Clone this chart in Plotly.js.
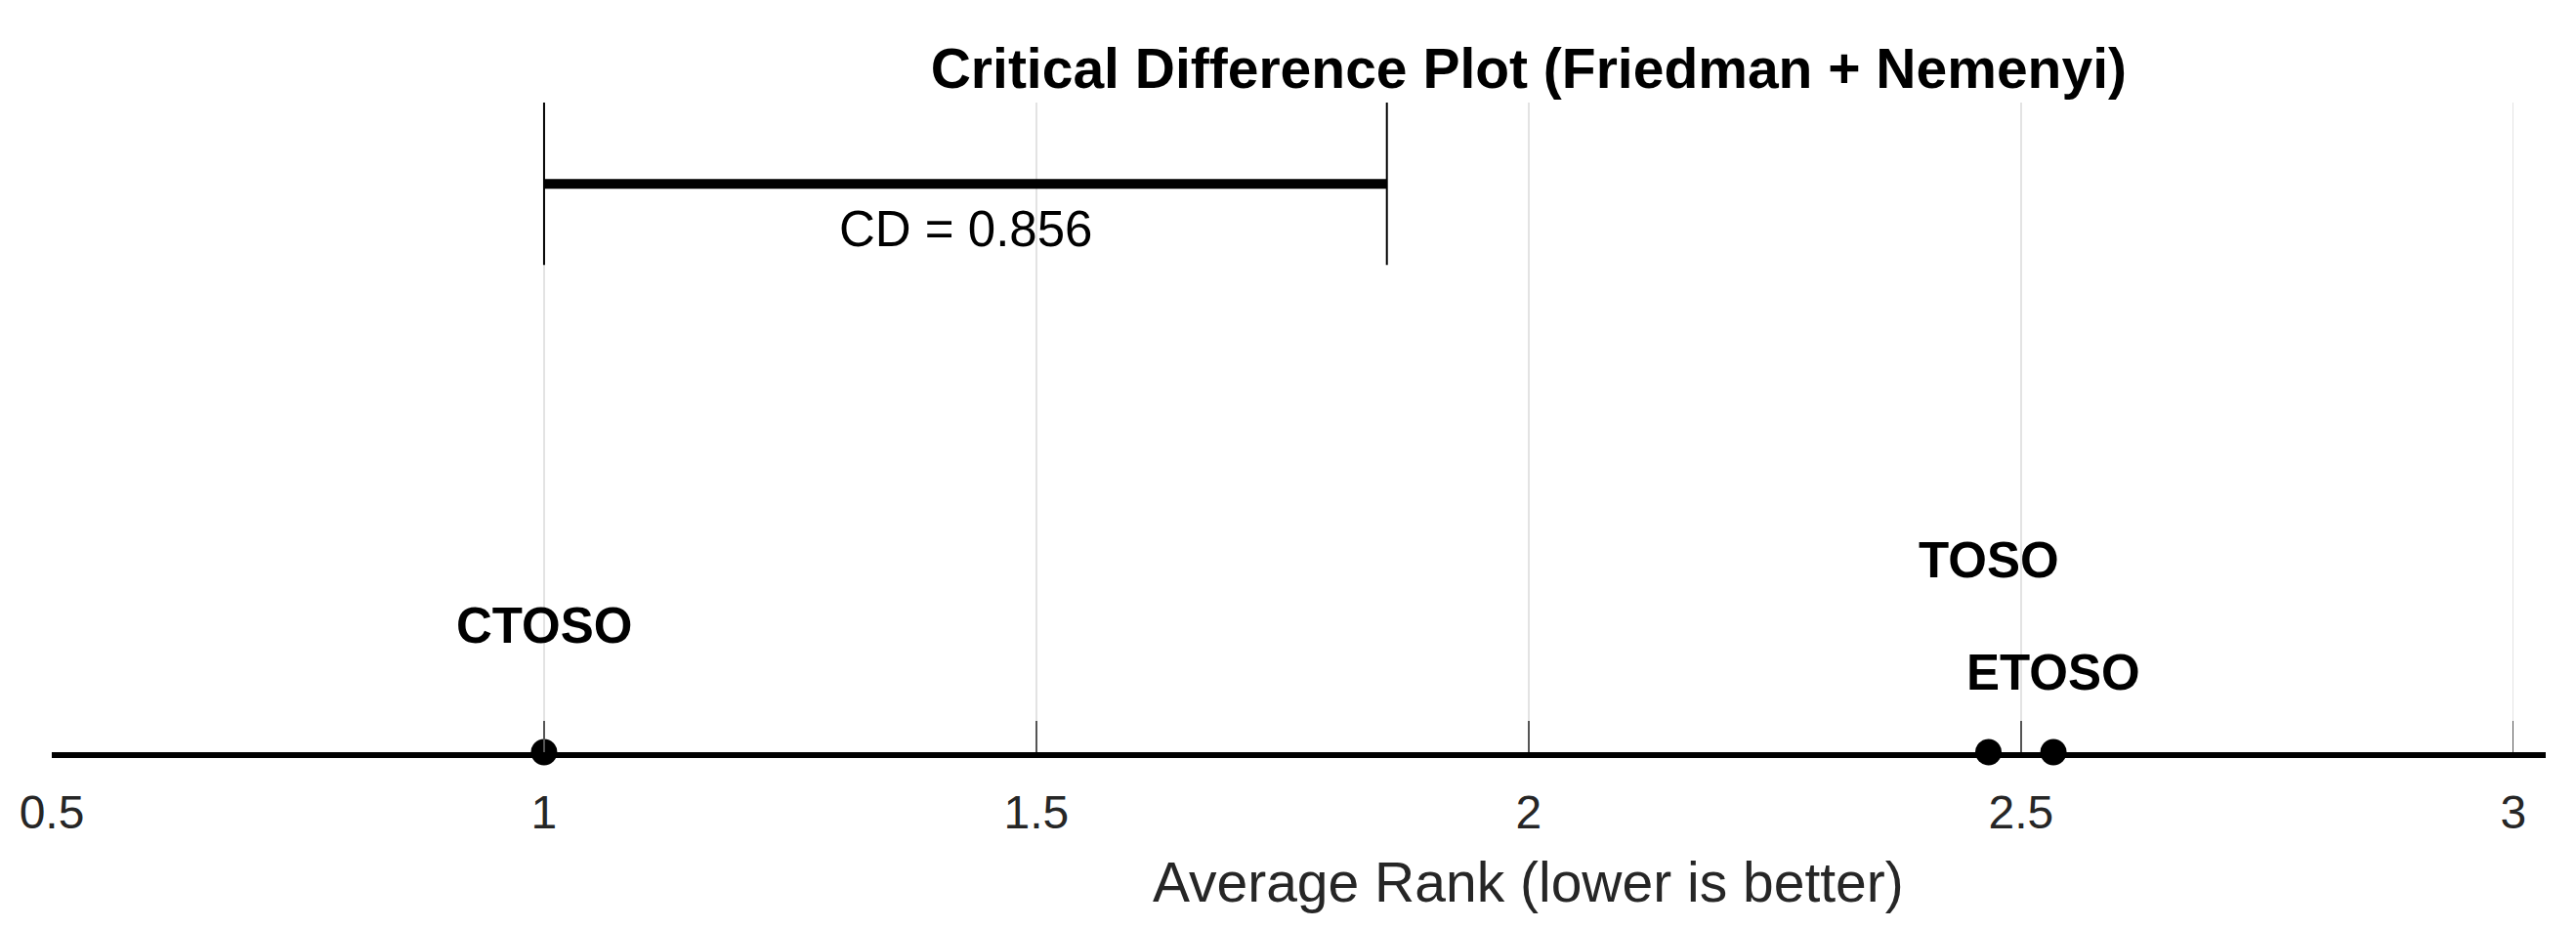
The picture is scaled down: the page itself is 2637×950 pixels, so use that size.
<!DOCTYPE html>
<html>
<head>
<meta charset="utf-8">
<script src="https://cdn.plot.ly/plotly-3.0.1.min.js"></script>
<style>
  html, body { margin: 0; padding: 0; background: #ffffff; overflow: hidden; }
  #chart { width: 2637px; height: 950px; }
</style>
</head>
<body>
<div id="chart"></div>
<script>
// ---- data ----
const methods = ['CTOSO', 'TOSO', 'ETOSO'];
const avgRanks = [1.0, 2.467, 2.533];
const cdValue = 0.856;
const tickValues = [0.5, 1, 1.5, 2, 2.5, 3];
const tickLabels = ['0.5', '1', '1.5', '2', '2.5', '3'];
const chartTitle = 'Critical Difference Plot (Friedman + Nemenyi)';
const xAxisTitle = 'Average Rank (lower is better)';

// ---- layout helpers (style / position, not data) ----
const labelLevels = [0.195, 0.296, 0.123];   // vertical placement of method labels (y axis is 0..1)
const FONT = 'Liberation Sans, Arial, Helvetica, sans-serif';
const minR = Math.min(...avgRanks), maxR = Math.max(...avgRanks);
const xRange = [minR - 0.5, maxR + 0.5];
const cdStart = minR, cdEnd = minR + cdValue;
const tickStep = tickValues[1] - tickValues[0];
// centre of the original (wider) axes 0.5..3.5, where titles are centred
const xMid = (tickValues[0] + tickValues[tickValues.length - 1] + tickStep) / 2;

const traces = [
  // CD bar
  { x: [cdStart, cdEnd], y: [0.875, 0.875], mode: 'lines', line: { color: '#000', width: 10 },
    hoverinfo: 'skip', showlegend: false, cliponaxis: false },
  // CD end ticks
  { x: [cdStart, cdStart], y: [0.75, 1.0], mode: 'lines', line: { color: '#000', width: 2 },
    hoverinfo: 'skip', showlegend: false, cliponaxis: false },
  { x: [cdEnd, cdEnd], y: [0.75, 1.0], mode: 'lines', line: { color: '#000', width: 2 },
    hoverinfo: 'skip', showlegend: false, cliponaxis: false },
  // method points
  { x: avgRanks, y: avgRanks.map(() => 0), mode: 'markers', text: methods,
    marker: { color: '#000', size: 27 }, showlegend: false, cliponaxis: false }
];

const annotations = [
  { x: (cdStart + cdEnd) / 2, y: 0.806, xref: 'x', yref: 'y', text: 'CD = ' + cdValue.toFixed(3),
    showarrow: false, xanchor: 'center', yanchor: 'middle',
    font: { family: FONT, size: 51, color: '#000' } },
  { x: xMid, y: 0, xref: 'x', yref: 'paper', yanchor: 'middle', yshift: -133, text: xAxisTitle,
    showarrow: false, xanchor: 'center', font: { family: FONT, size: 57, color: '#262626' } }
];
methods.forEach((m, i) => {
  annotations.push({ x: avgRanks[i], y: labelLevels[i], xref: 'x', yref: 'y', text: '<b>' + m + '</b>',
    showarrow: false, xanchor: 'center', yanchor: 'middle',
    font: { family: FONT, size: 51, color: '#000' } });
});

const layout = {
  width: 2637, height: 950,
  margin: { l: 53, r: 31, t: 105, b: 180, pad: 0 },
  paper_bgcolor: '#ffffff', plot_bgcolor: '#ffffff',
  title: { text: '<b>' + chartTitle + '</b>', xref: 'paper',
           x: (xMid - xRange[0]) / (xRange[1] - xRange[0]), xanchor: 'center',
           yref: 'container', y: 1 - 70 / 950, yanchor: 'middle',
           font: { family: FONT, size: 57, color: '#000' } },
  xaxis: {
    range: xRange, tickmode: 'array', tickvals: tickValues, ticktext: tickLabels,
    showgrid: true, gridcolor: '#e3e3e3', gridwidth: 1.5,
    zeroline: false, showline: true, linecolor: '#000', linewidth: 6,
    ticks: 'inside', ticklen: 32, tickwidth: 1.5, tickcolor: '#555',
    tickfont: { family: FONT, size: 48, color: '#262626' },
    ticklabelstandoff: 14, fixedrange: true
  },
  yaxis: { range: [0, 1], visible: false, showgrid: false, zeroline: false, fixedrange: true },
  annotations: annotations,
  showlegend: false
};

Plotly.newPlot('chart', traces, layout, { displayModeBar: false, staticPlot: true });
</script>
</body>
</html>
